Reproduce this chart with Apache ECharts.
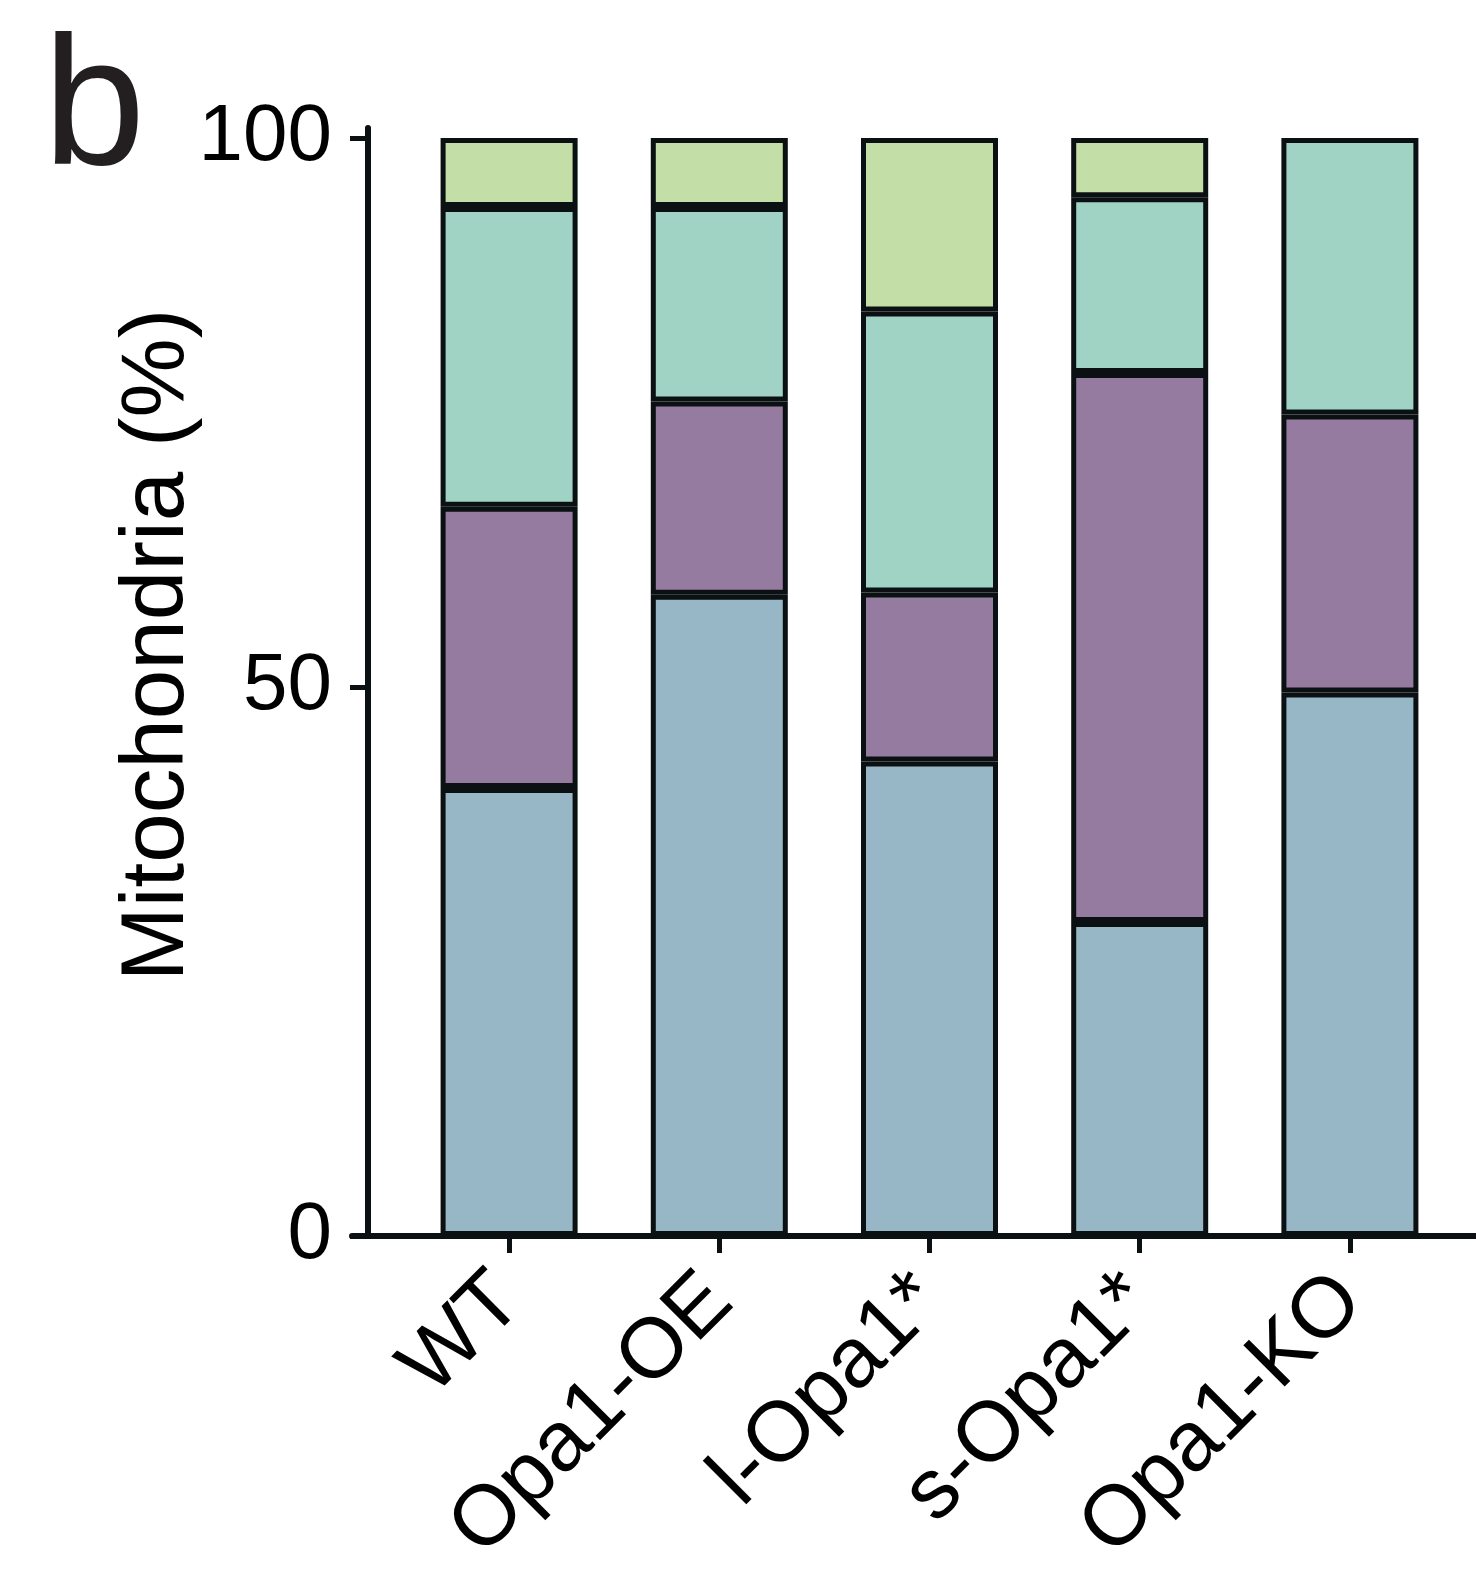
<!DOCTYPE html>
<html><head><meta charset="utf-8">
<script src="https://cdn.jsdelivr.net/npm/echarts@6/dist/echarts.min.js"></script>
<style>html,body{margin:0;padding:0;background:#fff}#c{width:1476px;height:1569px}</style>
</head><body><div id="c"></div>
<script>
const categories = ['WT', 'Opa1-OE', 'l-Opa1*', 's-Opa1*', 'Opa1-KO'];
const blueVals   = [40.8, 58.4, 43.2, 28.6, 49.5];
const purpleVals = [25.6, 17.6, 15.4, 50.0, 25.3];
const tealVals   = [27.3, 17.7, 25.6, 16.0, 25.2];
const greenVals  = [6.3, 6.3, 15.8, 5.4, null];
const yTicks = [0, 50, 100];

const FONT = '"Liberation Sans", Arial, sans-serif';
const INK = '#0b1112';
const colors = { blue: '#98b7c6', purple: '#967ba0', teal: '#a0d3c4', green: '#c4dea7' };

function mk(name, vals, color) {
  return {
    name, type: 'bar', stack: 'all', barWidth: 137,
    xAxisIndex: 0, yAxisIndex: 0,
    data: vals,
    itemStyle: { color, borderColor: INK, borderWidth: 5 },
    emphasis: { disabled: true }
  };
}

const chart = echarts.init(document.getElementById('c'), null, { renderer: 'canvas' });
chart.setOption({
  animation: false,
  title: { text: 'b', left: 38, top: 16, textStyle: { fontFamily: FONT, fontSize: 184, fontWeight: 'normal', color: '#231f20' } },
  grid: [
    { left: 404, right: 21, top: 128, bottom: 333, containLabel: false, outerBoundsMode: 'none' },
    { left: 352, right: 0, top: 128, bottom: 333, containLabel: false, outerBoundsMode: 'none' }
  ],
  xAxis: [{
    type: 'category', data: categories, gridIndex: 0,
    axisLine: { show: false },
    axisTick: { show: true, alignWithLabel: true, length: 17, lineStyle: { color: INK, width: 5 } },
    axisLabel: { rotate: 45, margin: 52, interval: 0, fontFamily: FONT, fontSize: 85, color: '#000' }
  }, {
    type: 'value', gridIndex: 1, min: 0, max: 1,
    splitLine: { show: false }, axisTick: { show: false }, axisLabel: { show: false },
    axisLine: { show: true, lineStyle: { color: INK, width: 6 } }
  }],
  yAxis: [{
    type: 'value', gridIndex: 0, min: 0, max: 100.9, offset: 36,
    name: 'Mitochondria (%)', nameLocation: 'middle', nameRotate: 90, nameGap: 165,
    nameMoveOverlap: false,
    nameTextStyle: { fontFamily: FONT, fontSize: 89, color: '#000', padding: [0, 0, 0, 74] },
    splitLine: { show: false },
    axisLine: { show: true, onZero: false, lineStyle: { color: INK, width: 6 } },
    axisTick: { show: true, customValues: yTicks, length: 18, lineStyle: { color: INK, width: 5 } },
    axisLabel: { customValues: yTicks, margin: 36, fontFamily: FONT, fontSize: 80, color: '#000' }
  }, {
    type: 'value', gridIndex: 1, show: false, min: 0, max: 1
  }],
  series: [
    mk('blue', blueVals, colors.blue),
    mk('purple', purpleVals, colors.purple),
    mk('teal', tealVals, colors.teal),
    mk('green', greenVals, colors.green)
  ]
});
</script></body></html>
